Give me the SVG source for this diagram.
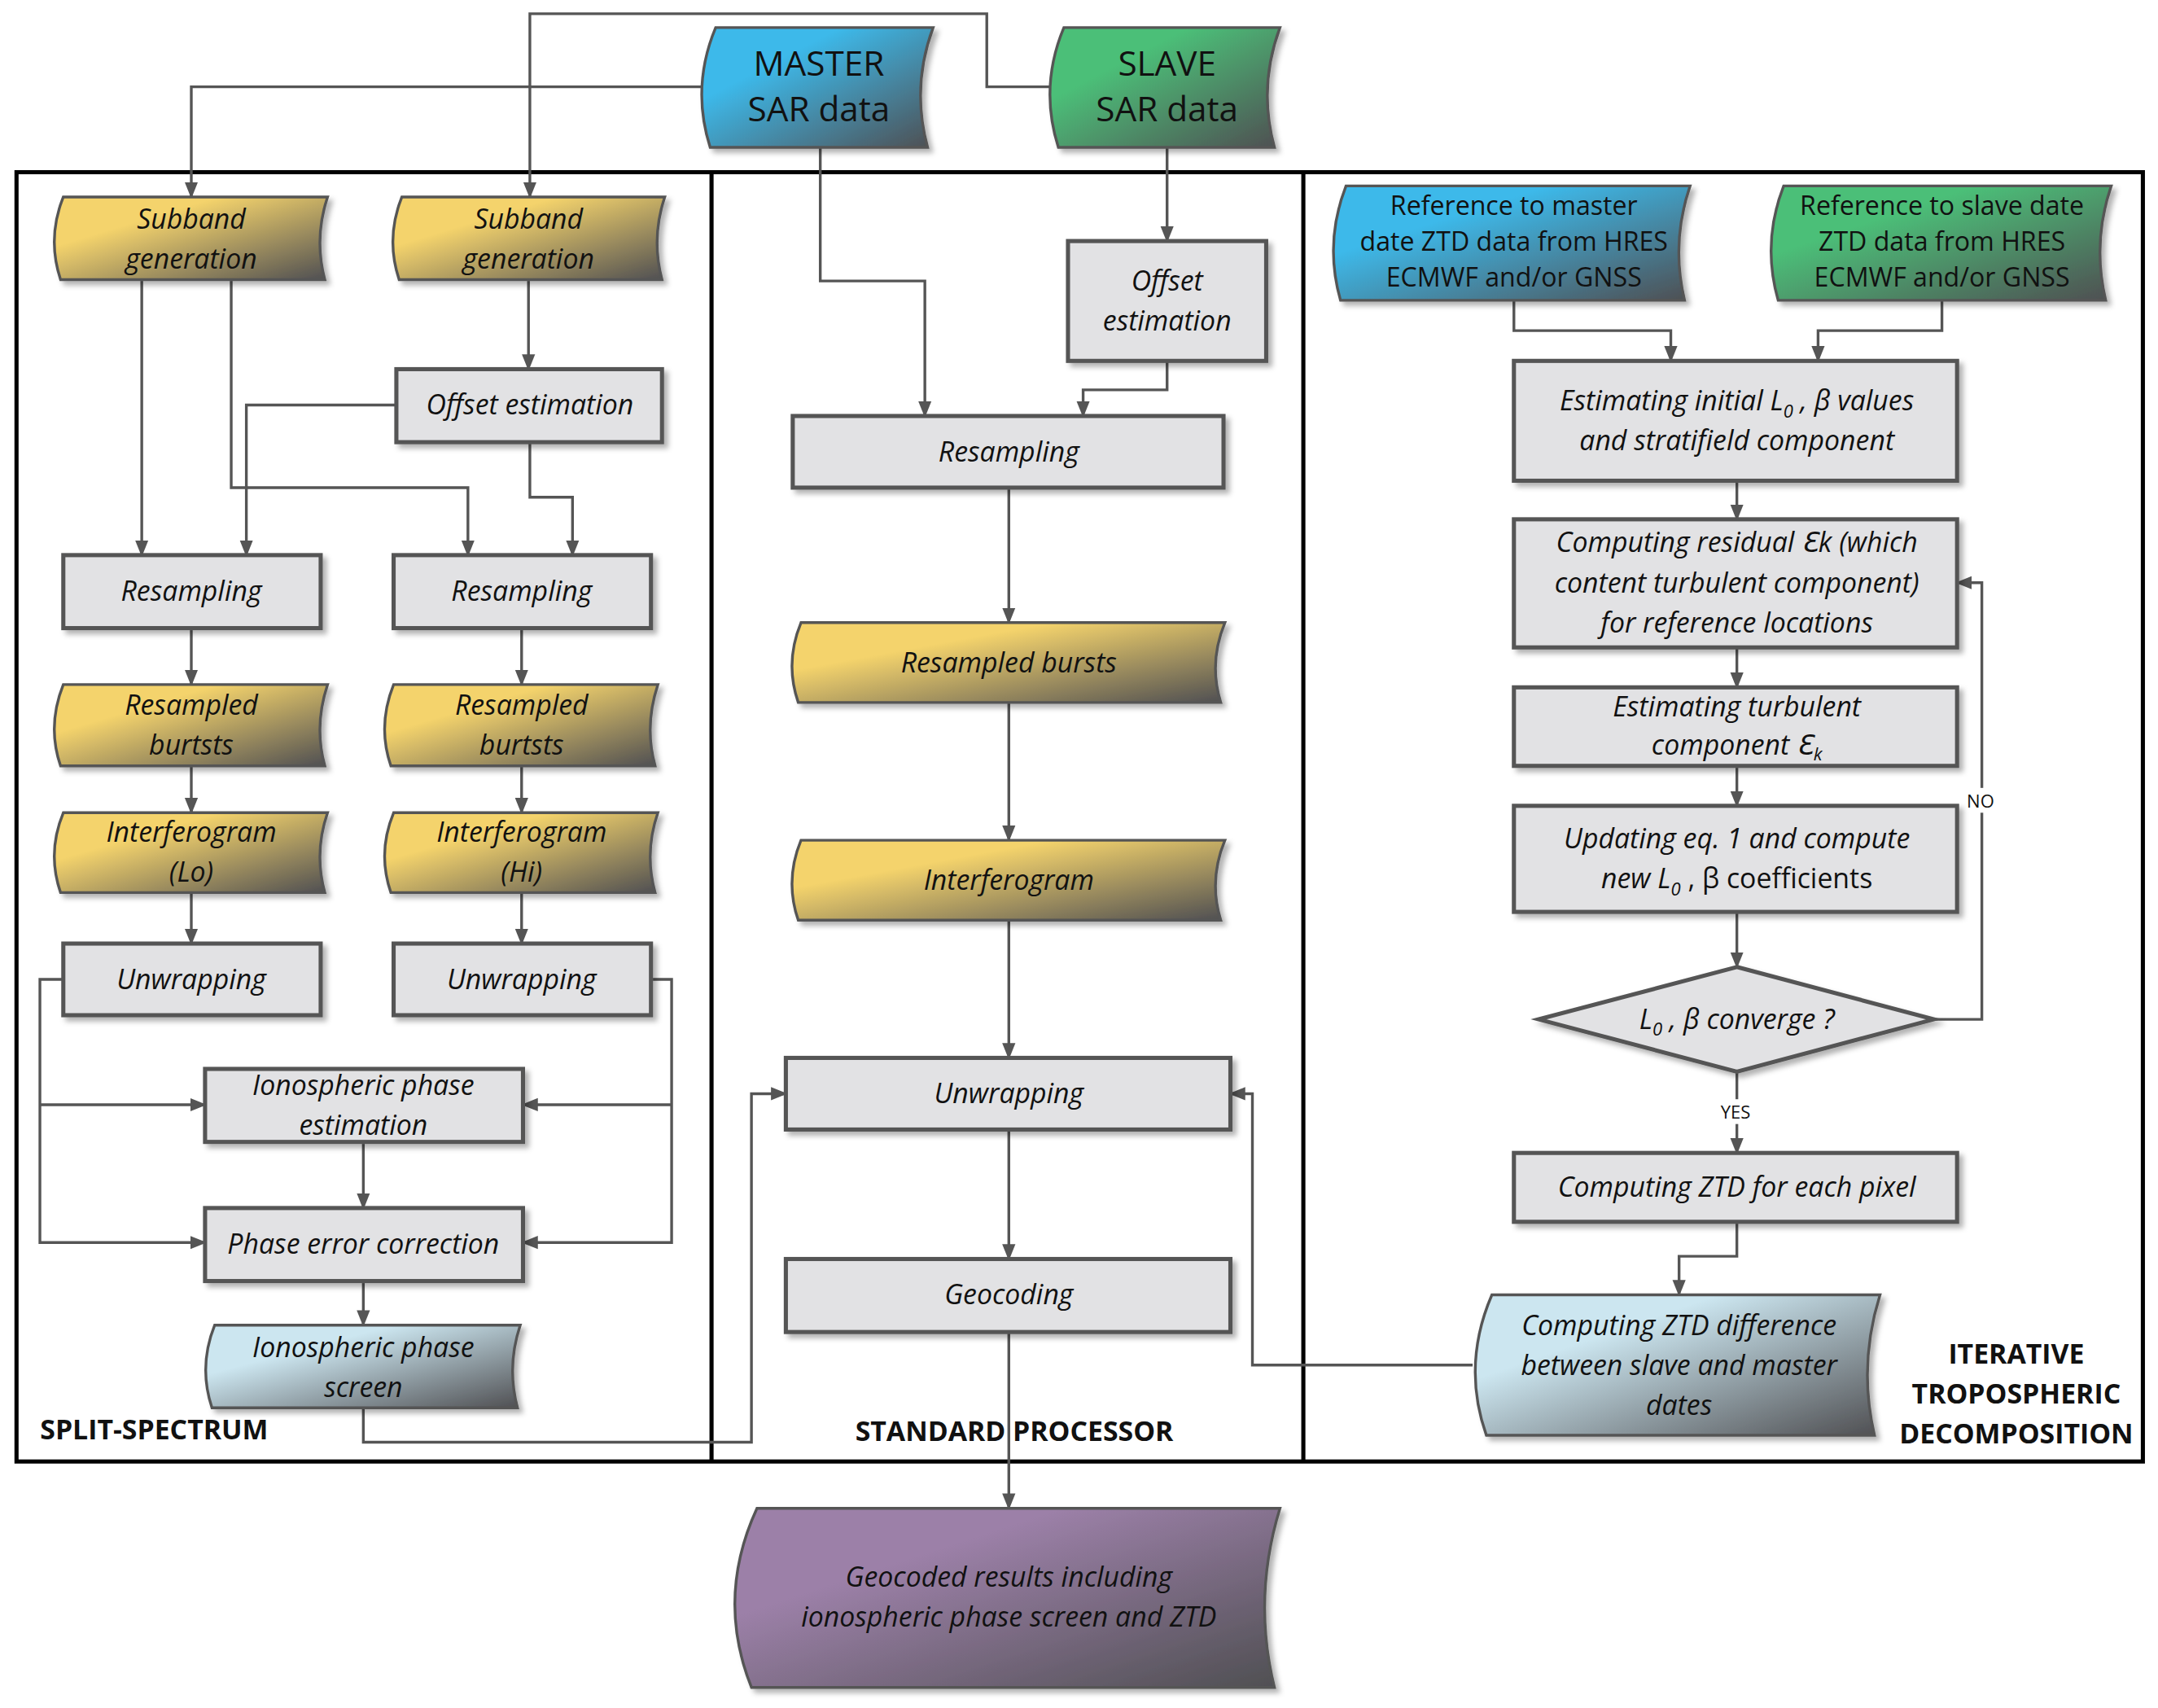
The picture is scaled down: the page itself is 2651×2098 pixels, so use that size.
<svg xmlns="http://www.w3.org/2000/svg" width="2651" height="2098" viewBox="0 0 2651 2098">
<defs>
<linearGradient id="gy" x1="0" y1="0" x2="1" y2="1"><stop offset="0.3" stop-color="#f4d36c"/><stop offset="1" stop-color="#4f4f52"/></linearGradient>
<linearGradient id="gb" x1="0" y1="0" x2="1" y2="1"><stop offset="0.3" stop-color="#3db9ea"/><stop offset="1" stop-color="#4f4f52"/></linearGradient>
<linearGradient id="gg" x1="0" y1="0" x2="1" y2="1"><stop offset="0.3" stop-color="#4cbf78"/><stop offset="1" stop-color="#4f4f52"/></linearGradient>
<linearGradient id="gl" x1="0" y1="0" x2="1" y2="1"><stop offset="0.3" stop-color="#cce6f0"/><stop offset="1" stop-color="#4f4f52"/></linearGradient>
<linearGradient id="gp" x1="0" y1="0" x2="1" y2="1"><stop offset="0.3" stop-color="#9c80a8"/><stop offset="1" stop-color="#4f4f52"/></linearGradient>
<filter id="sh" x="-10%" y="-10%" width="130%" height="140%"><feDropShadow dx="3" dy="3" stdDeviation="2" flood-color="#000" flood-opacity="0.3"/></filter>
<marker id="ar" viewBox="0 0 10 10" refX="9" refY="5" markerWidth="6" markerHeight="6" orient="auto"><path d="M0,1 L10,5 L0,9 Z" fill="#555"/></marker>
</defs>
<style>
.b{fill:#e2e2e4;stroke:#555;stroke-width:3;filter:url(#sh)}
.t{stroke:#555;stroke-width:2;filter:url(#sh)}
.c{fill:none;stroke:#555;stroke-width:2;marker-end:url(#ar)}
.l{fill:none;stroke:#555;stroke-width:2}
text{font-family:"Open Sans","DejaVu Sans",sans-serif;font-size:20px;text-anchor:middle;fill:#111}
.i{font-style:italic}
.h{font-weight:bold;font-size:20px}
.m{font-size:25px}
</style>
<g transform="scale(1.6907,1.692)">
<rect x="0" y="0" width="1568" height="1240" fill="#fff"/>
<g id="frame" fill="none" stroke="#000" stroke-width="3">
<rect x="12" y="125" width="1545" height="936"/>
<line x1="517" y1="125" x2="517" y2="1061"/><line x1="947" y1="125" x2="947" y2="1061"/>
</g>
<g id="connectors">
<path class="c" d="M512,63 H139 V143"/>
<path class="c" d="M765,63 H717 V10 H385 V143"/>
<path class="c" d="M596,107 V204 H672 V302"/>
<path class="c" d="M848,107 V175"/>
<path class="c" d="M848,262 V283 H787 V302"/>
<path class="c" d="M733,354 V452"/><path class="c" d="M733,510 V610"/><path class="c" d="M733,668 V768"/><path class="c" d="M733,820 V914"/><path class="c" d="M733,967 V1095"/>
<path class="c" d="M103,203 V403"/><path class="c" d="M168,203 V354 H340 V403"/>
<path class="c" d="M384,203 V268"/>
<path class="c" d="M288,294 H179 V403"/><path class="c" d="M385,321 V361 H416 V403"/>
<path class="c" d="M139,456 V497"/><path class="c" d="M379,456 V497"/>
<path class="c" d="M139,556 V590"/><path class="c" d="M379,556 V590"/>
<path class="c" d="M139,648 V685"/><path class="c" d="M379,648 V685"/>
<path class="c" d="M46,711 H29 V902 H149"/><path class="c" d="M29,802 H149"/>
<path class="c" d="M473,711 H488 V902 H380"/><path class="c" d="M488,802 H380"/>
<path class="c" d="M264,829 V877"/><path class="c" d="M264,930 V962"/>
<path class="c" d="M264,1022 V1047 H546 V794 H571"/>
<path class="c" d="M1070,991 H910 V794 H894"/>
<path class="c" d="M1100,218 V240 H1214 V262"/><path class="c" d="M1411,218 V240 H1321 V262"/>
<path class="c" d="M1262,349 V377"/><path class="c" d="M1262,470 V499"/><path class="c" d="M1262,556 V585"/><path class="c" d="M1262,662 V702"/>
<path class="c" d="M1262,778 V837"/>
<path class="c" d="M1405,740 H1440 V423 H1422"/>
<path class="c" d="M1262,887 V912 H1220 V940"/>
<rect x="1426" y="572" width="26" height="18" fill="#fff"/><text x="1439" y="586" style="font-size:13px">NO</text>
<rect x="1246" y="798" width="32" height="18" fill="#fff"/><text x="1261" y="812" style="font-size:13px">YES</text>
</g>
<g id="master"><path class="t" fill="url(#gb)" d="M520,20 H678 Q662,63 674,107 H516 Q502,63 520,20 Z"/><text class="m" x="595" y="55">MASTER</text><text class="m" x="595" y="88">SAR data</text></g>
<g id="slave"><path class="t" fill="url(#gg)" d="M773,20 H930 Q914,63 926,107 H769 Q755,63 773,20 Z"/><text class="m" x="848" y="55">SLAVE</text><text class="m" x="848" y="88">SAR data</text></g>
<g id="sub1"><path class="t" fill="url(#gy)" d="M46,143 H238 Q228,173 236,203 H44 Q34,173 46,143 Z"/><text class="i" x="139" y="166">Subband</text><text class="i" x="139" y="195">generation</text></g>
<g id="sub2"><path class="t" fill="url(#gy)" d="M292,143 H483 Q473,173 481,203 H290 Q280,173 292,143 Z"/><text class="i" x="384" y="166">Subband</text><text class="i" x="384" y="195">generation</text></g>
<g id="off1"><rect class="b" x="288" y="268" width="193" height="53"/><text class="i" x="385" y="301">Offset estimation</text></g>
<g id="res1"><rect class="b" x="46" y="403" width="187" height="53"/><text class="i" x="139" y="436">Resampling</text></g>
<g id="res2"><rect class="b" x="286" y="403" width="187" height="53"/><text class="i" x="379" y="436">Resampling</text></g>
<g id="rb1"><path class="t" fill="url(#gy)" d="M46,497 H238 Q228,527 236,556 H44 Q34,527 46,497 Z"/><text class="i" x="139" y="519">Resampled</text><text class="i" x="139" y="548">burtsts</text></g>
<g id="rb2"><path class="t" fill="url(#gy)" d="M286,497 H478 Q468,527 476,556 H284 Q274,527 286,497 Z"/><text class="i" x="379" y="519">Resampled</text><text class="i" x="379" y="548">burtsts</text></g>
<g id="if1"><path class="t" fill="url(#gy)" d="M46,590 H238 Q228,619 236,648 H44 Q34,619 46,590 Z"/><text class="i" x="139" y="611">Interferogram</text><text class="i" x="139" y="640">(Lo)</text></g>
<g id="if2"><path class="t" fill="url(#gy)" d="M286,590 H478 Q468,619 476,648 H284 Q274,619 286,590 Z"/><text class="i" x="379" y="611">Interferogram</text><text class="i" x="379" y="640">(Hi)</text></g>
<g id="unw1"><rect class="b" x="46" y="685" width="187" height="52"/><text class="i" x="139" y="718">Unwrapping</text></g>
<g id="unw2"><rect class="b" x="286" y="685" width="187" height="52"/><text class="i" x="379" y="718">Unwrapping</text></g>
<g id="ipe"><rect class="b" x="149" y="776" width="231" height="53"/><text class="i" x="264" y="795">Ionospheric phase</text><text class="i" x="264" y="824">estimation</text></g>
<g id="pec"><rect class="b" x="149" y="877" width="231" height="53"/><text class="i" x="264" y="910">Phase error correction</text></g>
<g id="ips"><path class="t" fill="url(#gl)" d="M156,962 H378 Q368,992 376,1022 H154 Q144,992 156,962 Z"/><text class="i" x="264" y="985">Ionospheric phase</text><text class="i" x="264" y="1014">screen</text></g>
<text class="h" x="112" y="1045">SPLIT-SPECTRUM</text>
<g id="off2"><rect class="b" x="776" y="175" width="144" height="87"/><text class="i" x="848" y="211">Offset</text><text class="i" x="848" y="240">estimation</text></g>
<g id="res3"><rect class="b" x="576" y="302" width="313" height="52"/><text class="i" x="733" y="335">Resampling</text></g>
<g id="rb3"><path class="t" fill="url(#gy)" d="M582,452 H890 Q878,481 887,510 H580 Q570,481 582,452 Z"/><text class="i" x="733" y="488">Resampled bursts</text></g>
<g id="if3"><path class="t" fill="url(#gy)" d="M582,610 H890 Q878,639 887,668 H580 Q570,639 582,610 Z"/><text class="i" x="733" y="646">Interferogram</text></g>
<g id="unw3"><rect class="b" x="571" y="768" width="323" height="52"/><text class="i" x="733" y="801">Unwrapping</text></g>
<g id="geo"><rect class="b" x="571" y="914" width="323" height="53"/><text class="i" x="733" y="947">Geocoding</text></g>
<text class="h" x="737" y="1046">STANDARD PROCESSOR</text>
<g id="result"><path class="t" fill="url(#gp)" d="M550,1095 H930 Q910,1160 926,1225 H546 Q520,1160 550,1095 Z"/><text class="i" x="733" y="1152">Geocoded results including</text><text class="i" x="733" y="1181">ionospheric phase screen and ZTD</text></g>
<g id="refm"><path class="t" fill="url(#gb)" d="M978,135 H1228 Q1214,176 1224,218 H974 Q962,176 978,135 Z"/><text x="1100" y="156" style="font-size:19px">Reference to master</text><text x="1100" y="182" style="font-size:19px">date ZTD data from HRES</text><text x="1100" y="208" style="font-size:19px">ECMWF and/or GNSS</text></g>
<g id="refs"><path class="t" fill="url(#gg)" d="M1296,135 H1534 Q1520,176 1530,218 H1292 Q1280,176 1296,135 Z"/><text x="1411" y="156" style="font-size:19px">Reference to slave date</text><text x="1411" y="182" style="font-size:19px">ZTD data from HRES</text><text x="1411" y="208" style="font-size:19px">ECMWF and/or GNSS</text></g>
<g id="est"><rect class="b" x="1100" y="262" width="322" height="87"/><text class="i" x="1262" y="298">Estimating initial <tspan>L</tspan><tspan font-size="13" dy="5">0</tspan><tspan dy="-5"> , β values</tspan></text><text class="i" x="1262" y="327">and stratifield component</text></g>
<g id="cres"><rect class="b" x="1100" y="377" width="322" height="93"/><text class="i" x="1262" y="401">Computing residual Ɛk (which</text><text class="i" x="1262" y="430">content turbulent component)</text><text class="i" x="1262" y="459">for reference locations</text></g>
<g id="turb"><rect class="b" x="1100" y="499" width="322" height="57"/><text class="i" x="1262" y="520">Estimating turbulent</text><text class="i" x="1262" y="548">component Ɛ<tspan font-size="13" dy="4">k</tspan></text></g>
<g id="upd"><rect class="b" x="1100" y="585" width="322" height="77"/><text class="i" x="1262" y="616">Updating eq. 1 and compute</text><text x="1262" y="645"><tspan class="i">new L</tspan><tspan class="i" font-size="13" dy="5">0</tspan><tspan dy="-5"> , β coefficients</tspan></text></g>
<g id="conv"><path class="b" d="M1262,702 L1405,740 L1262,778 L1118,740 Z"/><text class="i" x="1262" y="747">L<tspan font-size="13" dy="5">0</tspan><tspan dy="-5"> , β  converge ?</tspan></text></g>
<g id="ztdp"><rect class="b" x="1100" y="837" width="322" height="50"/><text class="i" x="1262" y="869">Computing ZTD for each pixel</text></g>
<g id="ztdd"><path class="t" fill="url(#gl)" d="M1084,940 H1366 Q1350,991 1362,1042 H1080 Q1062,991 1084,940 Z"/><text class="i" x="1220" y="969">Computing ZTD difference</text><text class="i" x="1220" y="998">between slave and master</text><text class="i" x="1220" y="1027">dates</text></g>
<text class="h" x="1465" y="990">ITERATIVE</text><text class="h" x="1465" y="1019">TROPOSPHERIC</text><text class="h" x="1465" y="1048">DECOMPOSITION</text>
</g>
</svg>
